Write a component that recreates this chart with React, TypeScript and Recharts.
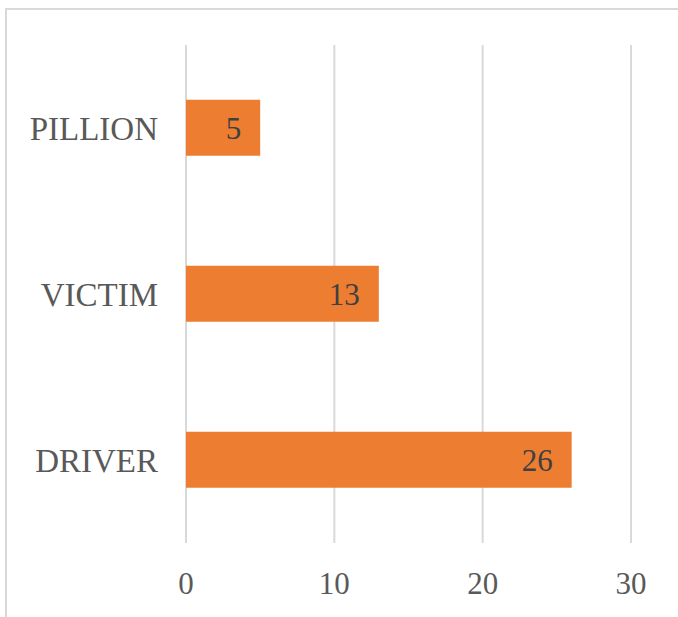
import { Bar, BarChart, CartesianGrid, LabelList, XAxis, YAxis } from "recharts";

const roles = ["PILLION", "VICTIM", "DRIVER"];
const counts = [5, 13, 26];
const xTicks = [0, 10, 20, 30];

const data = roles.map((role, i) => ({ role, count: counts[i] }));

const font = "'Liberation Serif', 'Times New Roman', serif";

export default function App() {
  return (
    <div
      style={{
        position: "fixed",
        left: 0,
        top: 0,
        width: 678,
        height: 617,
        overflow: "hidden",
        background: "#fff",
      }}
    >
      <div
        style={{
          position: "absolute",
          left: 5,
          top: 8,
          width: 800,
          height: 800,
          borderLeft: "2px solid #d9d9d9",
          borderTop: "2px solid #d9d9d9",
        }}
      />
      <div style={{ position: "absolute", left: 0, top: 0 }}>
        <BarChart
          width={678}
          height={617}
          data={data}
          layout="vertical"
          barCategoryGap="33%"
          margin={{ top: 45, right: 47, bottom: 24, left: 0 }}
        >
          <CartesianGrid horizontal={false} stroke="#d9d9d9" strokeWidth={2} />
          <XAxis
            type="number"
            domain={[0, 30]}
            ticks={xTicks}
            height={50}
            axisLine={false}
            tickLine={false}
            tickMargin={23}
            tick={{ fill: "#595959", fontSize: 31, fontFamily: font }}
          />
          <YAxis
            type="category"
            dataKey="role"
            width={186}
            axisLine={false}
            tickLine={false}
            tickMargin={22}
            tick={{ fill: "#595959", fontSize: 33, fontFamily: font }}
          />
          <Bar dataKey="count" fill="#ED7D31" isAnimationActive={false}>
            <LabelList
              dataKey="count"
              position="insideRight"
              offset={19}
              fill="#404040"
              fontSize={31}
              fontFamily={font}
            />
          </Bar>
        </BarChart>
      </div>
    </div>
  );
}
